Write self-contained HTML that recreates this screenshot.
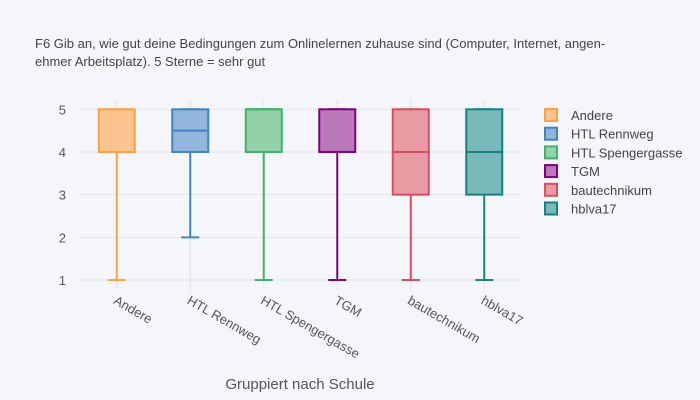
<!DOCTYPE html>
<html><head><meta charset="utf-8"><style>
body{margin:0;background:#f5f6fa;}
svg{display:block;font-family:"Liberation Sans",sans-serif;}
</style></head><body>
<svg id="c" width="700" height="400">
<rect width="700" height="400" fill="#f5f6fa"/>
<text x="35" y="48" font-size="13" fill="#444">F6 Gib an, wie gut deine Bedingungen zum Onlinelernen zuhause sind (Computer, Internet, angen-</text>
<text x="35" y="66" font-size="13" fill="#444">ehmer Arbeitsplatz). 5 Sterne = sehr gut</text>
<g id="grid"></g><g id="boxes"></g><g id="legend"></g>
<text x="300" y="389" font-size="15" fill="#555" text-anchor="middle">Gruppiert nach Schule</text>
</svg>
<script>
const categories=["Andere","HTL Rennweg","HTL Spengergasse","TGM","bautechnikum","hblva17"];
const mins=[1,2,1,1,1,1];
const q1s=[4,4,4,4,3,3];
const medians=[4,4.5,5,4,4,4];
const q3s=[5,5,5,5,5,5];
const maxs=[5,5,5,5,5,5];
const yTicks=[1,2,3,4,5];
const colors=["#ff9f3f","#3d85c6","#3cb36b","#800080","#dc4c5c","#138282"];
const fills=["#fcc590","#91b5db","#93d1a8","#ba79bb","#e89ba2","#7ab9ba"];
const NS="http://www.w3.org/2000/svg";
const L=80,R=521,T=109.3,B=280;
const y=v=>B-(v-1)*(B-T)/4;
const step=(R-L)/categories.length;
const x=i=>L+step*(i+0.5);
function mk(p,tag,a){const e=document.createElementNS(NS,tag);for(const k in a)e.setAttribute(k,a[k]);p.appendChild(e);return e;}
const g=document.getElementById('grid'),bx=document.getElementById('boxes'),lg=document.getElementById('legend');
yTicks.forEach(t=>{
 const l=mk(g,'line',{x1:L,x2:R,y1:y(t),y2:y(t),stroke:'#e2e4ea','stroke-width':1});
 
 
 const tx=mk(g,'text',{x:L-14,y:y(t)+5,'font-size':13,fill:'#555','text-anchor':'end'});
 tx.textContent=t;
 
 
});
categories.forEach((c,i)=>{
 const l=mk(g,'line',{x1:x(i),x2:x(i),y1:100,y2:290,stroke:'#e2e4ea','stroke-width':1});
 
 
 const tx=mk(g,'text',{x:x(i)-4,y:303,'font-size':13,fill:'#555',transform:`rotate(30 ${x(i)-4} 303)`});
 tx.textContent=c;
 
 
 const gr=mk(bx,'g',{});
 
 
 const col=colors[i],hw=18;
 mk(gr,'line',{x1:x(i),x2:x(i),y1:y(q1s[i]),y2:y(mins[i]),stroke:col,'stroke-width':2});
 mk(gr,'line',{x1:x(i),x2:x(i),y1:y(q3s[i]),y2:y(maxs[i]),stroke:col,'stroke-width':2});
 mk(gr,'line',{x1:x(i)-9,x2:x(i)+9,y1:y(mins[i]),y2:y(mins[i]),stroke:col,'stroke-width':2});
 mk(gr,'line',{x1:x(i)-9,x2:x(i)+9,y1:y(maxs[i]),y2:y(maxs[i]),stroke:col,'stroke-width':2});
 mk(gr,'rect',{x:x(i)-hw,y:y(q3s[i]),width:2*hw,height:y(q1s[i])-y(q3s[i]),fill:fills[i],stroke:col,'stroke-width':2});
 mk(gr,'line',{x1:x(i)-hw,x2:x(i)+hw,y1:y(medians[i]),y2:y(medians[i]),stroke:col,'stroke-width':2});
 const ly=115+i*18.7;
 const it=mk(lg,'g',{});
 
 
 mk(it,'rect',{x:545,y:ly-6,width:12,height:12,fill:fills[i],stroke:col,'stroke-width':2});
 const lt=mk(it,'text',{x:571,y:ly+5,'font-size':13,fill:'#444'});
 lt.textContent=c;
});
</script>
</body></html>
